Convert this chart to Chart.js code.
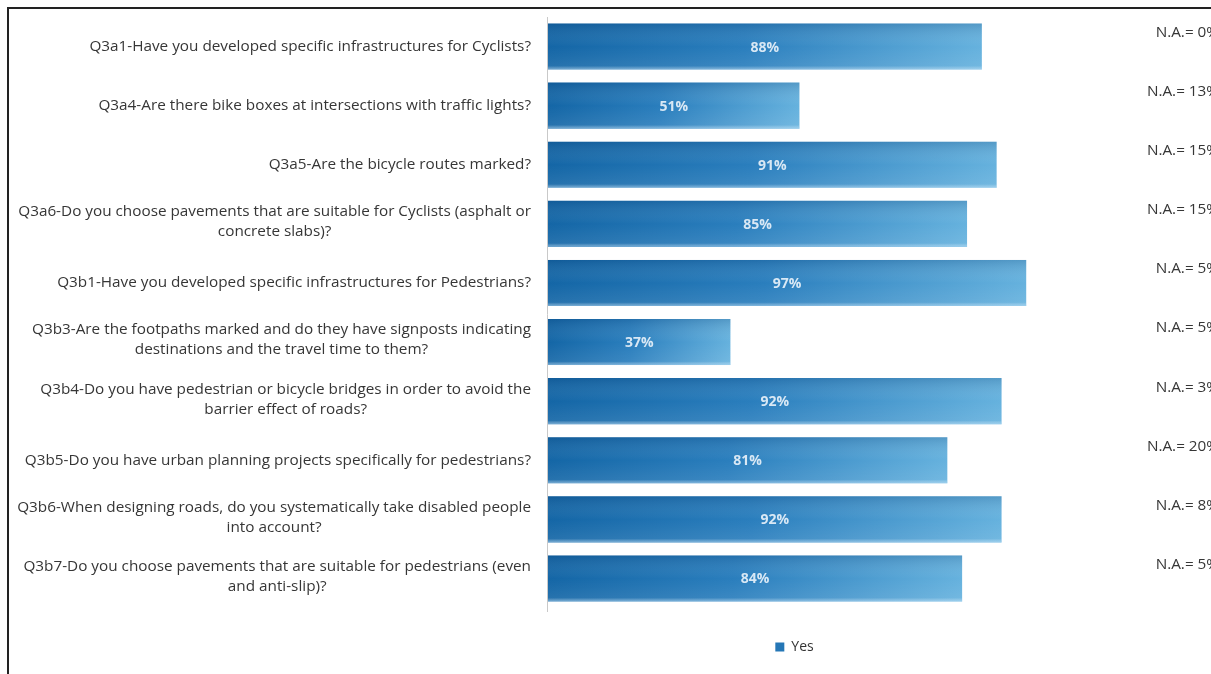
<!DOCTYPE html>
<html>
<head>
<meta charset="utf-8">
<script src="https://cdn.jsdelivr.net/npm/chart.js@4.4.0/dist/chart.umd.min.js"></script>
<style>
  html, body { margin: 0; padding: 0; background: #fff; overflow: hidden; }
  #frame { position: absolute; left: 7px; top: 7px; width: 1300px; height: 800px; border: 2px solid #222; }
  #wrap { position: absolute; left: 0; top: 0; width: 1211px; height: 674px; }
</style>
</head>
<body>
<div id="frame"></div>
<div id="wrap"><canvas id="barChart"></canvas></div>
<script>
// survey questions (wrapped lines), share of "Yes" answers and of "N.A."
const questions = [
    ['Q3a1-Have you developed specific infrastructures for Cyclists?'],
    ['Q3a4-Are there bike boxes at intersections with traffic lights?'],
    ['Q3a5-Are the bicycle routes marked?'],
    ['Q3a6-Do you choose pavements that are suitable for Cyclists (asphalt or', 'concrete slabs)?'],
    ['Q3b1-Have you developed specific infrastructures for Pedestrians?'],
    ['Q3b3-Are the footpaths marked and do they have signposts indicating', 'destinations and the travel time to them?'],
    ['Q3b4-Do you have pedestrian or bicycle bridges in order to avoid the', 'barrier effect of roads?'],
    ['Q3b5-Do you have urban planning projects specifically for pedestrians?'],
    ['Q3b6-When designing roads, do you systematically take disabled people', 'into account?'],
    ['Q3b7-Do you choose pavements that are suitable for pedestrians (even', 'and anti-slip)?']
];
const yesValues = [88, 51, 91, 85, 97, 37, 92, 81, 92, 84];
const naValues = [0, 13, 15, 15, 5, 5, 3, 20, 8, 5];

const FONT = '"Open Sans", Lato, sans-serif';

function barFill(context) {
    const chart = context.chart;
    const xs = chart.scales.x;
    if (!xs || !context.parsed) return '#2f82c0';
    const x0 = xs.getPixelForValue(0);
    const x1 = xs.getPixelForValue(context.parsed.x);
    const g = chart.ctx.createLinearGradient(x0, 0, x1, 0);
    g.addColorStop(0, '#1466a6');
    g.addColorStop(0.45, '#2a7ebd');
    g.addColorStop(1, '#66b2de');
    return g;
}

// question labels, axis line, value labels and N.A. notes
const annotate = {
    id: 'annotate',
    beforeDatasetsDraw(chart) {
        const ctx = chart.ctx;
        const area = chart.chartArea;
        ctx.save();
        ctx.strokeStyle = '#c9c9c9';
        ctx.lineWidth = 1;
        ctx.beginPath();
        ctx.moveTo(area.left - 0.5, area.top);
        ctx.lineTo(area.left - 0.5, area.bottom + 4);
        ctx.stroke();

        ctx.font = '15.3px ' + FONT;
        ctx.fillStyle = '#363636';
        ctx.textAlign = 'center';
        ctx.textBaseline = 'middle';
        const ys = chart.scales.y;
        const right = area.left - 17;
        const lh = 20;
        questions.forEach((lines, i) => {
            const y = ys.getPixelForValue(i);
            const w = Math.max(...lines.map(l => ctx.measureText(l).width));
            const cx = right - w / 2;
            const top = y - (lines.length - 1) * lh / 2 - (lines.length > 1 ? 2 : 0);
            lines.forEach((l, k) => ctx.fillText(l, cx, top + k * lh));
        });
        ctx.restore();
    },
    afterDatasetsDraw(chart) {
        const ctx = chart.ctx;
        const meta = chart.getDatasetMeta(0);
        ctx.save();
        meta.data.forEach((bar, i) => {
            // soft vertical shading on each bar
            const h = bar.height;
            const g = ctx.createLinearGradient(0, bar.y - h / 2, 0, bar.y + h / 2);
            g.addColorStop(0, 'rgba(0,40,90,0.18)');
            g.addColorStop(0.5, 'rgba(255,255,255,0)');
            g.addColorStop(0.92, 'rgba(255,255,255,0.08)');
            g.addColorStop(1, 'rgba(200,230,250,0.55)');
            ctx.fillStyle = g;
            ctx.fillRect(bar.base, bar.y - h / 2, bar.x - bar.base, h);

            ctx.font = 'bold 14px ' + FONT;
            ctx.fillStyle = 'rgba(240,246,252,0.88)';
            ctx.textAlign = 'center';
            ctx.textBaseline = 'middle';
            ctx.fillText(yesValues[i] + '%', (bar.base + bar.x) / 2, bar.y + 1);

            ctx.font = '15.3px ' + FONT;
            ctx.fillStyle = '#363636';
            ctx.textAlign = 'right';
            ctx.fillText('N.A.= ' + naValues[i] + '%', 1219, bar.y - 14);
        });
        ctx.restore();
    }
};

const ctx = document.getElementById('barChart').getContext('2d');
window.myBarChart = new Chart(ctx, {
    type: 'bar',
    data: {
        labels: questions,
        datasets: [{
            label: 'Yes',
            data: yesValues,
            backgroundColor: barFill,
            categoryPercentage: 1,
            barPercentage: 0.78
        }]
    },
    options: {
        indexAxis: 'y',
        responsive: true,
        maintainAspectRatio: false,
        animation: false,
        layout: {
            padding: { left: 548, right: 170, top: 17, bottom: 10 }
        },
        scales: {
            x: { display: false, min: 0, max: 100 },
            y: { display: false }
        },
        plugins: {
            tooltip: { enabled: false },
            legend: {
                position: 'bottom',
                labels: {
                    color: '#333',
                    font: { family: FONT, size: 14 },
                    boxWidth: 9,
                    boxHeight: 9,
                    padding: 32,
                    generateLabels: () => [{
                        text: 'Yes',
                        fillStyle: '#2577b6',
                        strokeStyle: '#2577b6',
                        lineWidth: 0,
                        fontColor: '#333'
                    }]
                }
            }
        }
    },
    plugins: [annotate]
});
</script>
</body>
</html>
